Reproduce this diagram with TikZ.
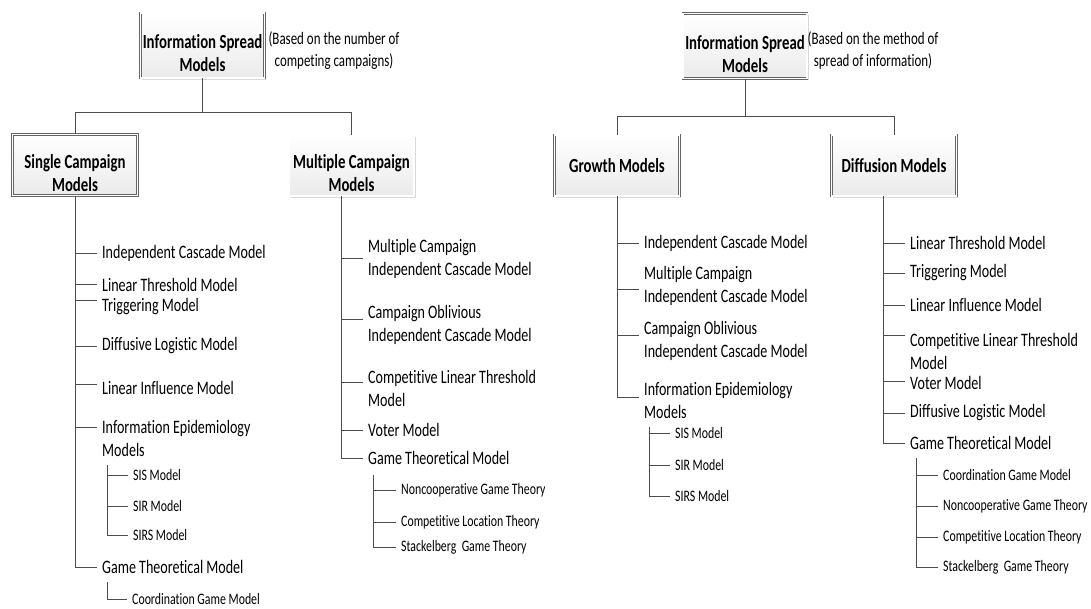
\documentclass[tikz,border=0pt]{standalone}
\usepackage{fontspec}
\setmainfont{Carlito}[FakeStretch=0.74,Ligatures=CommonOff]
\usetikzlibrary{shadows}

\newcommand{\bxs}{\rule{0pt}{30pt}}

\begin{document}
\begin{tikzpicture}[
  x=1pt,y=-1pt,
  ln/.style ={draw=black!70,line width=0.9pt},
  bx/.style ={draw=black!60,double=white,double distance=1.2pt,line width=0.6pt,
              top color=white,bottom color=black!8,
              drop shadow={shadow xshift=1.5pt,shadow yshift=-1.5pt,fill=black!30,opacity=0.5},
              minimum width=125pt,minimum height=61pt,align=center,inner sep=1pt,
              font=\fontsize{20}{23}\selectfont\bfseries},
  tp/.style ={bx,minimum width=124pt,minimum height=65pt},
  it/.style ={anchor=west,align=left,inner xsep=5pt,inner ysep=0pt,
              font=\fontsize{19}{23}\selectfont},
  sb/.style ={anchor=west,inner xsep=5pt,inner ysep=0pt,
              font=\fontsize{16}{18}\selectfont},
  nt/.style ={align=center,inner sep=0pt,font=\fontsize{17.5}{22}\selectfont}
]
\useasboundingbox[fill=white] (0,0) rectangle (1091,608);

% ======== left: by number of competing campaigns
\node[tp] (isl) at (202.5,45.5) {\bxs Information Spread\\Models};
\node[nt] (nl)  at (334,51) {(Based on the number of\\competing campaigns)};
\node[bx] (sc)  at (75,165)    {\bxs Single Campaign\\Models};
\node[bx] (mc)  at (351.5,165.5) {\bxs Multiple Campaign\\Models};

\coordinate (jl) at (203,112);
\draw[ln] (isl.south) -- (isl.south |- jl) -| (sc.north);
\draw[ln] (isl.south |- jl) -| (mc.north);

% single campaign models
\foreach \n/\ty/\y/\t in {a1/253/253/{Independent Cascade Model},
    a2/284/285/{Linear Threshold Model},
    a3/300/307/{Triggering Model},
    a4/346/346/{Diffusive Logistic Model},
    a5/384/388/{Linear Influence Model},
    a6/427/438.5/{Information Epidemiology\\Models},
    a7/567/567/{Game Theoretical Model}}{
  \node[it] (\n) at (97,\y) {\t};
  \coordinate (t\n) at (75,\ty);
  \draw[ln] (t\n) -- (t\n -| \n.west);
}
\draw[ln] (sc.south) |- (a7.west);

\coordinate (sa) at (107,465);
\foreach \n/\y/\t in {s1/475/{SIS Model},s2/506/{SIR Model},s3/535/{SIRS Model}}{
  \node[sb] (\n) at (128,\y) {\t};
  \draw[ln] (sa |- \n.west) -- (\n.west);
}
\draw[ln] (sa) |- (s3.west);

\coordinate (sb) at (107,582);
\node[sb] (c1) at (127,599) {Coordination Game Model};
\draw[ln] (sb) |- (c1.west);

% multiple campaign models
\foreach \n/\ty/\y/\t in {b1/258/258.5/{Multiple Campaign\\Independent Cascade Model},
    b2/319/325/{Campaign Oblivious\\Independent Cascade Model},
    b3/382/388.5/{Competitive Linear Threshold\\Model},
    b4/430/430/{Voter Model},
    b5/458/458/{Game Theoretical Model}}{
  \node[it] (\n) at (363,\y) {\t};
  \coordinate (t\n) at (341,\ty);
  \draw[ln] (t\n) -- (t\n -| \n.west);
}
\coordinate (mt) at ([xshift=-10.5pt]mc.south);
\draw[ln] (mt) |- (b5.west);

\coordinate (sm) at (373,475);
\foreach \n/\y/\t in {d1/490/{Noncooperative Game Theory},
    d2/522/{Competitive Location Theory},
    d3/547/{Stackelberg\ \ Game Theory}}{
  \node[sb] (\n) at (396,\y) {\t};
  \draw[ln] (sm |- \n.west) -- (\n.west);
}
\draw[ln] (sm) |- (d3.west);

% ======== right: by method of spread of information
\node[tp] (isr) at (745,46) {\bxs Information Spread\\Models};
\node[nt] (nr)  at (873,51) {(Based on the method of\\spread of information)};
\node[bx] (gm)  at (617,165.5) {Growth Models};
\node[bx] (dm)  at (894,165.5) {Diffusion Models};

\coordinate (jr) at (745,116);
\draw[ln] (isr.south) -- (isr.south |- jr) -| (gm.north);
\draw[ln] (isr.south |- jr) -| (dm.north);

% growth models
\foreach \n/\ty/\y/\t in {g1/243/243/{Independent Cascade Model},
    g2/289/286/{Multiple Campaign\\Independent Cascade Model},
    g3/335/341/{Campaign Oblivious\\Independent Cascade Model},
    g4/397/400.5/{Information Epidemiology\\Models}}{
  \node[it] (\n) at (639,\y) {\t};
  \coordinate (t\n) at (617,\ty);
  \draw[ln] (t\n) -- (t\n -| \n.west);
}
\draw[ln] (gm.south) -- (tg4);

\coordinate (sg) at (649,427);
\foreach \n/\y/\t in {h1/433/{SIS Model},h2/465/{SIR Model},h3/496/{SIRS Model}}{
  \node[sb] (\n) at (670,\y) {\t};
  \draw[ln] (sg |- \n.west) -- (\n.west);
}
\draw[ln] (sg) |- (h3.west);

% diffusion models
\foreach \n/\ty/\y/\t in {f1/243/243/{Linear Threshold Model},
    f2/273/273/{Triggering Model},
    f3/305/305/{Linear Influence Model},
    f4/335/351/{Competitive Linear Threshold\\Model},
    f5/381/383/{Voter Model},
    f6/413/413/{Diffusive Logistic Model},
    f7/443/443/{Game Theoretical Model}}{
  \node[it] (\n) at (905,\y) {\t};
  \coordinate (t\n) at (883,\ty);
  \draw[ln] (t\n) -- (t\n -| \n.west);
}
\coordinate (dt) at ([xshift=-11pt]dm.south);
\draw[ln] (dt) |- (f7.west);

\coordinate (sd) at (916,458);
\foreach \n/\y/\t in {k1/475/{Coordination Game Model},
    k2/506/{Noncooperative Game Theory},
    k3/537/{Competitive Location Theory},
    k4/567/{Stackelberg\ \ Game Theory}}{
  \node[sb] (\n) at (938,\y) {\t};
  \draw[ln] (sd |- \n.west) -- (\n.west);
}
\draw[ln] (sd) |- (k4.west);
\end{tikzpicture}
\end{document}
